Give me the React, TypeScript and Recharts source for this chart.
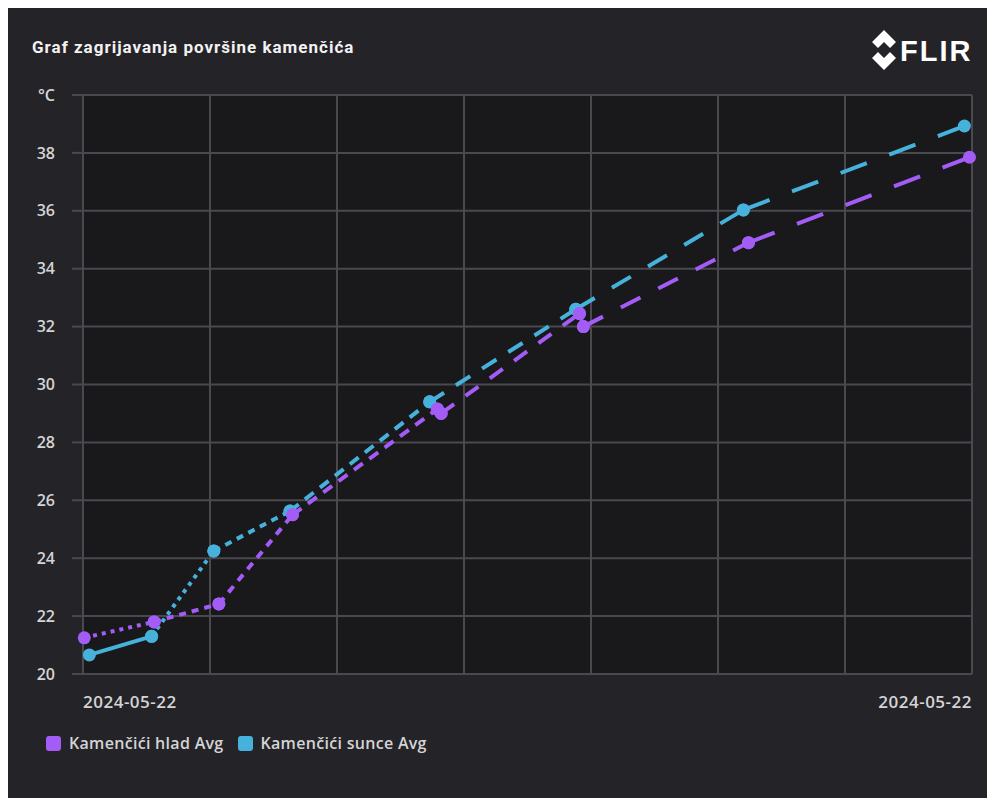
import React from "react"
import { LineChart, Line, XAxis, YAxis, CartesianGrid } from "recharts"

// minutes since first measurement (2024-05-22)
const hladTime = [0.1, 5.6, 10.7, 16.5, 27.9, 28.2, 39.1, 39.4, 52.4, 69.8]
const hladTemp = [21.25, 21.8, 22.42, 25.5, 29.15, 29.0, 32.45, 32.0, 34.9, 37.85]

const sunceTime = [0.5, 5.4, 10.3, 16.3, 27.3, 38.8, 52.0, 69.4]
const sunceTemp = [20.66, 21.3, 24.25, 25.63, 29.4, 32.6, 36.03, 38.93]

const yTicks = [20, 22, 24, 26, 28, 30, 32, 34, 36, 38, 40]
const xTicks = [0, 10, 20, 30, 40, 50, 60, 70]
const dateLabel = "2024-05-22"
const unitLabel = "°C"

const seriesNames = ["Kamenčići hlad Avg", "Kamenčići sunce Avg"]

const PURPLE = "#a35cf6"
const BLUE = "#46b2dc"
const GRID = "#4a494f"
const TEXT = "#d4d4d6"

// each segment between two readings gets its own dash pattern
const hladDash = ["4 5", "7 6", "8 7", "11 8", "11 8", "16 14", "16 14", "22 20", "28 24"]
const sunceDash = [undefined, "4 5", "7 6", "11 8", "17 14", "22 20", "28 24"]

const segments = (times: number[], temps: number[]) =>
  times.slice(1).map((t, i) => [
    { t: times[i], v: temps[i] },
    { t, v: temps[i + 1] },
  ])

const XTick = (props: any) => {
  const { x, y, payload } = props
  if (payload.value !== 0 && payload.value !== 70) return null
  const anchor = payload.value === 0 ? "start" : "end"
  return (
    <text
      x={x}
      y={y + 26}
      textAnchor={anchor}
      fill={TEXT}
      fontSize={17}
      fontWeight={600}
      letterSpacing={0.5}
      fontFamily="Open Sans"
    >
      {dateLabel}
    </text>
  )
}

function FlirLogo() {
  return (
    <svg width={120} height={42} style={{ position: "absolute", left: 864, top: 24 }}>
      <polygon points="13,0 25,12 19,18 13,12 7,18 1,12" fill="#fff" />
      <polygon points="13,16 25,28 13,40 1,28 7,22 13,28 19,22" fill="#fff" />
      <text x={29} y={31} fill="#fff" fontSize={29} fontWeight={900} fontFamily="Liberation Sans" letterSpacing={2}>
        FLIR
      </text>
    </svg>
  )
}

export default function App() {
  const hladSegs = segments(hladTime, hladTemp)
  const sunceSegs = segments(sunceTime, sunceTemp)

  return (
    <div
      style={{
        position: "relative",
        width: 988,
        height: 792,
        margin: "-2px 0 0 -1px",
        background: "#242328",
        overflow: "hidden",
        fontFamily: "Open Sans",
      }}
    >
      <div
        style={{
          position: "absolute",
          left: 25,
          top: 31,
          color: "#f2f2f2",
          fontFamily: "Roboto",
          fontWeight: 700,
          fontSize: 17,
          letterSpacing: 1,
        }}
      >
        Graf zagrijavanja površine kamenčića
      </div>
      <FlirLogo />
      <div style={{ position: "absolute", left: 1, top: 2 }}>
        <LineChart width={987} height={790} margin={{ top: 87, right: 23, left: 0, bottom: 94 }}>
          <CartesianGrid stroke={GRID} strokeWidth={2} fill="#19191b" />
          <XAxis
            dataKey="t"
            type="number"
            domain={[0, 70]}
            ticks={xTicks}
            axisLine={false}
            tickLine={false}
            height={30}
            tick={<XTick />}
          />
          <YAxis
            type="number"
            domain={[20, 40]}
            ticks={yTicks}
            width={75}
            axisLine={false}
            tickLine={{ stroke: GRID, strokeWidth: 2 }}
            tickSize={11}
            tickMargin={17}
            tickFormatter={(v: number) => (v === 40 ? unitLabel : String(v))}
            tick={{ fill: TEXT, fontSize: 16, fontWeight: 600, fontFamily: "Open Sans" }}
          />
          {sunceSegs.map((d, i) => (
            <Line
              key={"s" + i}
              data={d}
              dataKey="v"
              type="linear"
              stroke={BLUE}
              strokeWidth={4}
              strokeDasharray={sunceDash[i]}
              dot={{ r: 6.5, fill: BLUE, stroke: "none" }}
              isAnimationActive={false}
            />
          ))}
          {hladSegs.map((d, i) => (
            <Line
              key={"h" + i}
              data={d}
              dataKey="v"
              type="linear"
              stroke={PURPLE}
              strokeWidth={4}
              strokeDasharray={hladDash[i]}
              dot={{ r: 6.5, fill: PURPLE, stroke: "none" }}
              isAnimationActive={false}
            />
          ))}
        </LineChart>
      </div>
      <div
        style={{
          position: "absolute",
          left: 39,
          top: 726,
          display: "flex",
          alignItems: "center",
          color: TEXT,
          fontSize: 16,
          fontWeight: 600,
          letterSpacing: 0.3,
        }}
      >
        {[PURPLE, BLUE].map((c, i) => (
          <div key={i} style={{ display: "flex", alignItems: "center", marginRight: 14 }}>
            <span style={{ width: 15, height: 15, borderRadius: 3, background: c, marginRight: 8 }} />
            <span>{seriesNames[i]}</span>
          </div>
        ))}
      </div>
    </div>
  )
}
